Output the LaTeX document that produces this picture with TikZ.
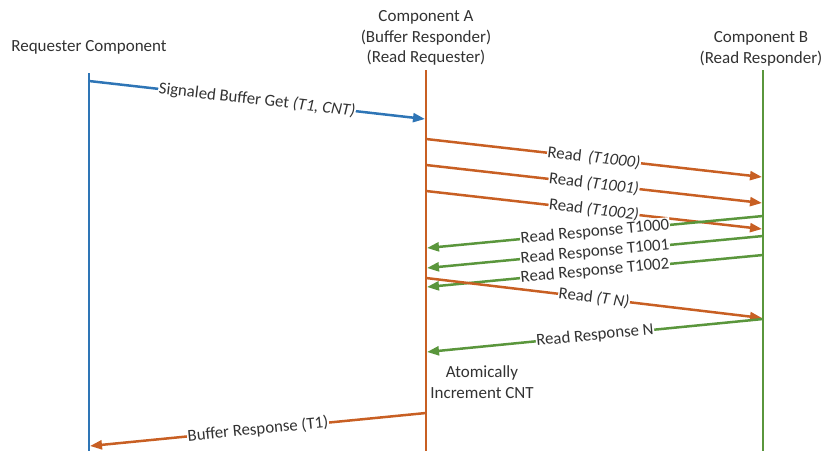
\documentclass[tikz,border=0pt]{standalone}
\usepackage{fontspec}
\setmainfont{Carlito}
\usetikzlibrary{arrows.meta}
\definecolor{reqblue}{RGB}{46,117,182}
\definecolor{aorange}{RGB}{200,95,35}
\definecolor{bgreen}{RGB}{90,150,60}
\definecolor{txt}{RGB}{50,50,50}
\tikzset{
  lifeline/.style={line width=2.5pt},
  msg/.style={line width=2.5pt, -{Triangle[length=12pt,width=9pt]}},
  lbl/.style={midway, sloped, fill=white, inner sep=0.6pt, text=txt,
              font=\fontsize{16.8}{20}\selectfont},
  head/.style={text=txt, align=center, font=\fontsize{17}{20.5}\selectfont},
}
\begin{document}
\begin{tikzpicture}[x=1pt,y=-1pt]
\useasboundingbox (0,0) rectangle (828,451);

% headers
\node[head] (hr) at (89,47) {Requester Component};
\node[head] (ha) at (426,38) {Component A\\(Buffer Responder)\\(Read Requester)};
\node[head] (hb) at (761,49) {Component B\\(Read Responder)};

% lifelines
\coordinate (r0) at (89,73);  \coordinate (r1) at (89,451);
\coordinate (a0) at (426,70); \coordinate (a1) at (426,451);
\coordinate (b0) at (763,70); \coordinate (b1) at (763,451);
\draw[lifeline, reqblue] (r0) -- (r1);
\draw[lifeline, aorange] (a0) -- (a1);
\draw[lifeline, bgreen]  (b0) -- (b1);

% message end points
\coordinate (s1) at (89,81);   \coordinate (e1) at (425,119);
\coordinate (s2) at (426,139); \coordinate (e2) at (762,177);
\coordinate (s3) at (426,165); \coordinate (e3) at (762,203);
\coordinate (s4) at (426,191); \coordinate (e4) at (762,229);
\coordinate (s5) at (763,216); \coordinate (e5) at (427,248);
\coordinate (s6) at (763,236); \coordinate (e6) at (427,268);
\coordinate (s7) at (763,255); \coordinate (e7) at (427,287);
\coordinate (s8) at (426,278); \coordinate (e8) at (762,318);
\coordinate (s9) at (763,319); \coordinate (e9) at (427,352);
\coordinate (s10) at (426,413); \coordinate (e10) at (90,446);

% messages
\draw[msg, reqblue] (s1) -- node[lbl] {Signaled Buffer Get \textit{(T1, CNT)}} (e1);
\draw[msg, aorange] (s2) -- node[lbl] {Read\, \textit{(T1000)}} (e2);
\draw[msg, aorange] (s3) -- node[lbl] {Read \textit{(T1001)}} (e3);
\draw[msg, aorange] (s4) -- node[lbl] {Read \textit{(T1002)}} (e4);
\draw[msg, bgreen]  (s5) -- node[lbl] {Read Response T1000} (e5);
\draw[msg, bgreen]  (s6) -- node[lbl] {Read Response T1001} (e6);
\draw[msg, bgreen]  (s7) -- node[lbl] {Read Response T1002} (e7);
\draw[msg, aorange] (s8) -- node[lbl] {Read \textit{(T N)}} (e8);
\draw[msg, bgreen]  (s9) -- node[lbl] {Read Response N} (e9);
\draw[msg, aorange] (s10) -- node[lbl] {Buffer Response (T1)} (e10);

% local action on component A
\node[head] (inc) at (482,382) {Atomically\\Increment CNT};
\end{tikzpicture}
\end{document}
